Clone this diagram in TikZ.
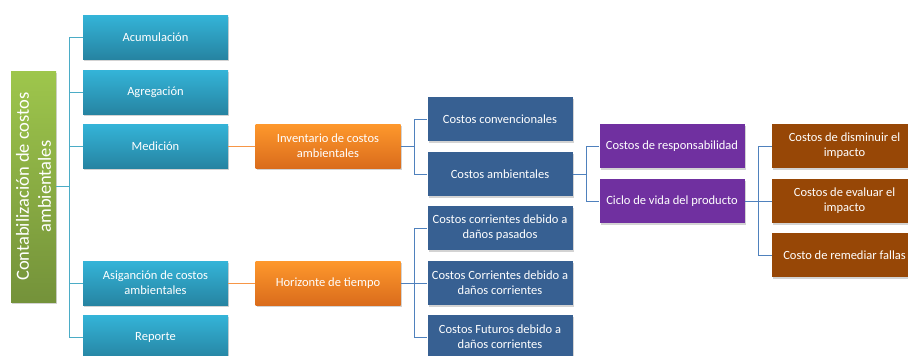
\documentclass[tikz,border=0pt]{standalone}
\usepackage{fontspec}
\setmainfont{Carlito}
\usetikzlibrary{shadows}

\definecolor{greentop}{RGB}{158,198,76}
\definecolor{greenbot}{RGB}{116,146,58}
\definecolor{cyantop}{RGB}{52,180,216}
\definecolor{cyanbot}{RGB}{38,132,162}
\definecolor{orangetop}{RGB}{254,152,44}
\definecolor{orangebot}{RGB}{218,108,28}
\definecolor{navy}{RGB}{55,96,146}
\definecolor{violet}{RGB}{112,48,160}
\definecolor{rust}{RGB}{151,71,6}
\definecolor{cyanline}{RGB}{75,172,198}
\definecolor{orangeline}{RGB}{247,150,70}
\definecolor{blueline}{RGB}{79,129,189}

\begin{document}
\begin{tikzpicture}[x=1pt,y=-1pt,
    box/.style={minimum width=145pt, minimum height=44pt, inner sep=1pt,
        text=white, align=center, font=\fontsize{12.5}{15}\selectfont,
        drop shadow={shadow xshift=1pt, shadow yshift=-1.5pt, opacity=0.35}},
    cyanbox/.style={box, top color=cyantop, bottom color=cyanbot},
    orangebox/.style={box, top color=orangetop, bottom color=orangebot},
    navybox/.style={box, fill=navy},
    violetbox/.style={box, fill=violet},
    rustbox/.style={box, fill=rust},
    link/.style={line width=1pt}]

    \useasboundingbox (0,0) rectangle (908,356);
    \clip (0,0) rectangle (908,356);

    % root
    \node[minimum width=45pt, minimum height=231pt, top color=greentop, bottom color=greenbot,
        drop shadow={shadow xshift=1pt, shadow yshift=-1.5pt, opacity=0.35}] (root) at (33.5,186.5) {};
    \node[rotate=90, text=white, align=center, font=\fontsize{18.5}{22}\selectfont] (rootlabel) at (root) {Contabilización de costos\\ambientales};

    % first level
    \node[cyanbox] (acum) at (155.5,37) {Acumulación};
    \node[cyanbox] (agreg) at (155.5,92) {Agregación};
    \node[cyanbox] (medic) at (155.5,146) {Medición};
    \node[cyanbox] (asig) at (155.5,283) {Asiganción de costos\\ambientales};
    \node[cyanbox] (report) at (155.5,337) {Reporte};

    % second level
    \node[orangebox] (invent) at (328,146) {Inventario de costos\\ambientales};
    \node[orangebox] (horiz) at (328,283) {Horizonte de tiempo};

    % third level
    \node[navybox] (conv) at (500,119) {Costos convencionales};
    \node[navybox] (amb) at (500,174) {Costos ambientales};
    \node[navybox] (pasad) at (500,228) {Costos corrientes debido a\\daños pasados};
    \node[navybox] (corr) at (500,283) {Costos Corrientes debido a\\daños corrientes};
    \node[navybox] (futur) at (500,337) {Costos Futuros debido a\\daños corrientes};

    % fourth level
    \node[violetbox] (resp) at (672,146) {Costos de responsabilidad};
    \node[violetbox] (ciclo) at (672,201) {Ciclo de vida del producto};

    % fifth level
    \node[rustbox] (dismin) at (844.5,146) {Costos de disminuir el\\impacto};
    \node[rustbox] (evalu) at (844.5,201) {Costos de evaluar el\\impacto};
    \node[rustbox] (remed) at (844.5,255) {Costo de remediar fallas};

    % connectors
    \draw[link, cyanline] (root.east) -- ++(13,0) coordinate (rootfork);
    \foreach \n in {acum,agreg,medic,asig,report}
        \draw[link, cyanline] (rootfork) |- (\n.west);

    \draw[link, orangeline] (medic.east) -- (invent.west);
    \draw[link, orangeline] (asig.east) -- (horiz.west);

    \draw[link, blueline] (invent.east) -- ++(14,0) coordinate (inventfork);
    \foreach \n in {conv,amb}
        \draw[link, blueline] (inventfork) |- (\n.west);

    \draw[link, blueline] (horiz.east) -- ++(14,0) coordinate (horizfork);
    \foreach \n in {pasad,corr,futur}
        \draw[link, blueline] (horizfork) |- (\n.west);

    \draw[link, blueline] (amb.east) -- ++(14,0) coordinate (ambfork);
    \foreach \n in {resp,ciclo}
        \draw[link, blueline] (ambfork) |- (\n.west);

    \draw[link, blueline] (ciclo.east) -- ++(14,0) coordinate (ciclofork);
    \foreach \n in {dismin,evalu,remed}
        \draw[link, blueline] (ciclofork) |- (\n.west);
\end{tikzpicture}
\end{document}
